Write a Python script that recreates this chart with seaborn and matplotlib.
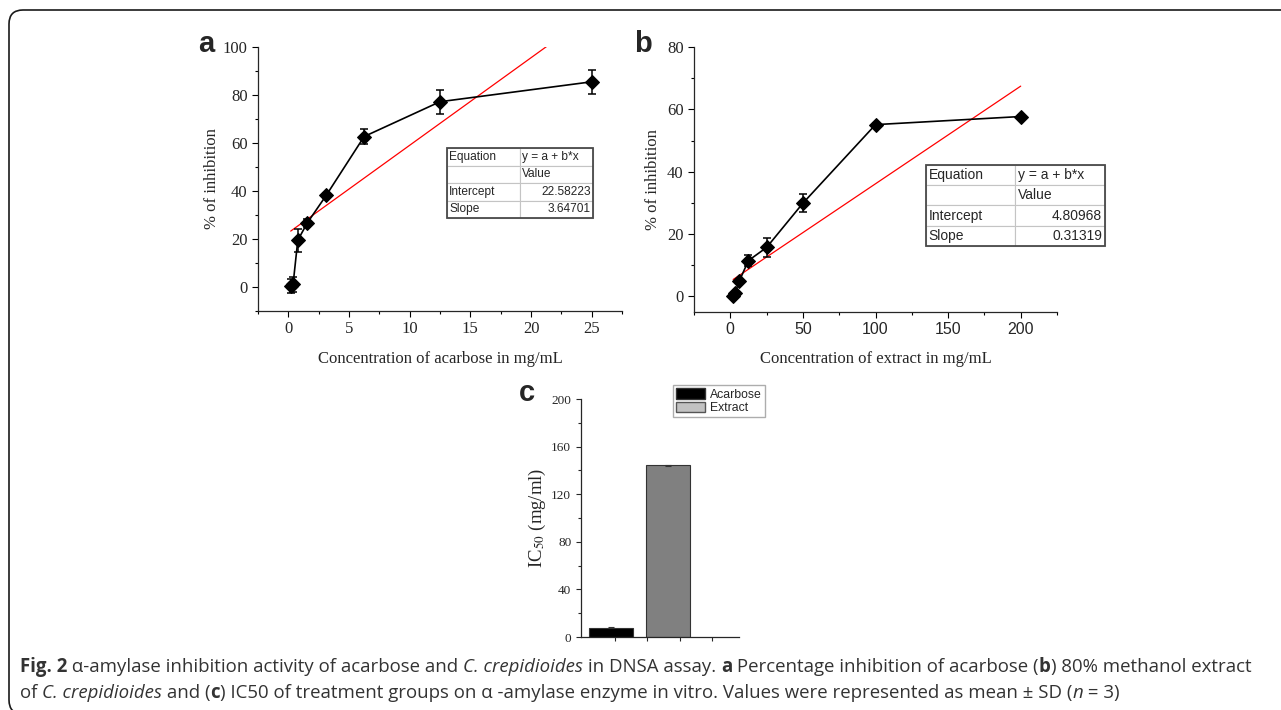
import numpy as np
import pandas as pd
import matplotlib
matplotlib.use("Agg")
import matplotlib.pyplot as plt
import matplotlib.font_manager as fm
import seaborn as sns
from matplotlib.patches import FancyBboxPatch, Patch, Rectangle
from matplotlib.ticker import MultipleLocator

# panel a - acarbose
conc_acarbose = [0.195, 0.39, 0.78, 1.5625, 3.125, 6.25, 12.5, 25]
inhib_acarbose = [0.4, 1.1, 19.5, 26.7, 38.2, 62.7, 77.2, 85.5]
sd_acarbose = [2.8, 3.0, 4.8, 1.8, 1.0, 3.0, 5.0, 4.9]
fit_a = [22.58223, 3.64701]  # intercept, slope

# panel b - extract
conc_extract = [1.5625, 3.125, 6.25, 12.5, 25, 50, 100, 200]
inhib_extract = [0.2, 1.0, 5.0, 11.5, 15.7, 29.9, 55.1, 57.7]
sd_extract = [0.4, 0.4, 0.5, 1.9, 2.9, 2.9, 0.5, 0.5]
fit_b = [4.80968, 0.31319]

# panel c - IC50
groups = ["Acarbose", "Extract"]
ic50 = [7.9, 144.2]
ic50_sd = [0.5, 0.5]

W, H = 1281, 710
sns.set_style("ticks")
plt.rcParams["font.family"] = ["Liberation Serif", "DejaVu Serif"]
plt.rcParams["mathtext.fontset"] = "stix"
plt.rcParams["axes.linewidth"] = 0.9

fig = plt.figure(figsize=(W / 100, H / 100), dpi=100)


def px_axes(left, top, right, bottom):
    return fig.add_axes([left / W, 1 - bottom / H, (right - left) / W, (bottom - top) / H])


def style_axes(ax, xmaj, xmin, ymaj, ymin, size):
    sns.despine(ax=ax)
    ax.xaxis.set_major_locator(MultipleLocator(xmaj))
    ax.xaxis.set_minor_locator(MultipleLocator(xmin))
    ax.yaxis.set_major_locator(MultipleLocator(ymaj))
    ax.yaxis.set_minor_locator(MultipleLocator(ymin))
    ax.tick_params(which="major", direction="out", length=4, width=0.8, labelsize=size, color="black")
    ax.tick_params(which="minor", direction="out", length=2.5, width=0.8, color="black")


def fit_table(ax, fit, bbox, size):
    cells = [["Equation", "y = a + b*x"], ["", "Value"],
             ["Intercept", f"{fit[0]:.5f}"], ["Slope", f"{fit[1]:.5f}"]]
    tb = ax.table(cellText=cells, bbox=bbox, cellLoc="left", zorder=5)
    tb.auto_set_font_size(False)
    tb.set_fontsize(size)
    for (r, c), cell in tb.get_celld().items():
        cell.set_edgecolor("#c4c4c4")
        cell.set_linewidth(0.8)
        cell.get_text().set_family("Liberation Sans")
        cell.PAD = 0.03
        if c == 1 and r >= 2:
            cell._loc = "right"
            cell.get_text().set_ha("right")
    ax.add_patch(Rectangle((bbox[0], bbox[1]), bbox[2], bbox[3], transform=ax.transAxes,
                           fill=False, edgecolor="#4a4a4a", linewidth=1.3, zorder=6, clip_on=False))


# ---- panel a ----
ax_a = px_axes(258, 47, 622, 311)
df_a = pd.DataFrame({"conc": conc_acarbose, "inhib": inhib_acarbose})
ax_a.errorbar(conc_acarbose, inhib_acarbose, yerr=sd_acarbose, fmt="none", ecolor="black",
              elinewidth=1.1, capsize=3, capthick=1.1, zorder=3)
sns.lineplot(data=df_a, x="conc", y="inhib", ax=ax_a, color="black", marker="D", markersize=7.5,
             markeredgecolor="black", linewidth=1.2, errorbar=None, zorder=4)
xa = np.array([conc_acarbose[0], conc_acarbose[-1]])
sns.lineplot(x=xa, y=fit_a[0] + fit_a[1] * xa, ax=ax_a, color="red", linewidth=0.9, zorder=2)
ax_a.set_xlim(-2.5, 27.5)
ax_a.set_ylim(-10, 100)
style_axes(ax_a, 5, 2.5, 20, 10, 12)
ax_a.set_xlabel("Concentration of acarbose in mg/mL", fontsize=12, labelpad=10)
ax_a.set_ylabel("% of inhibition", fontsize=12, labelpad=2)
fit_table(ax_a, fit_a, [0.519, 0.352, 0.401, 0.265], 8.6)

# ---- panel b ----
ax_b = px_axes(694, 47, 1057, 312)
df_b = pd.DataFrame({"conc": conc_extract, "inhib": inhib_extract})
ax_b.errorbar(conc_extract, inhib_extract, yerr=sd_extract, fmt="none", ecolor="black",
              elinewidth=1.1, capsize=3, capthick=1.1, zorder=3)
sns.lineplot(data=df_b, x="conc", y="inhib", ax=ax_b, color="black", marker="D", markersize=7.5,
             markeredgecolor="black", linewidth=1.2, errorbar=None, zorder=4)
xb = np.array([2.0, conc_extract[-1]])
sns.lineplot(x=xb, y=fit_b[0] + fit_b[1] * xb, ax=ax_b, color="red", linewidth=0.9, zorder=2)
ax_b.set_xlim(-25, 225)
ax_b.set_ylim(-5, 80)
style_axes(ax_b, 50, 25, 20, 10, 12)
for lab in ax_b.get_xticklabels():
    lab.set_family("Liberation Sans")
    lab.set_fontsize(11.5)
ax_b.set_xlabel("Concentration of extract in mg/mL", fontsize=12, labelpad=10)
ax_b.set_ylabel("% of inhibition", fontsize=12, labelpad=4)
fit_table(ax_b, fit_b, [0.639, 0.249, 0.493, 0.306], 10)

# ---- panel c ----
ax_c = px_axes(581, 399, 739, 637)
sns.barplot(x=groups, y=ic50, hue=groups, palette=["black", "#808080"], width=0.77,
            edgecolor="#333333", linewidth=0.8, legend=False, ax=ax_c)
ax_c.errorbar(range(len(groups)), ic50, yerr=ic50_sd, fmt="none", ecolor="#333333",
              elinewidth=0.8, capsize=2.5, capthick=0.8)
ax_c.set_xlim(-0.52, 2.23)
ax_c.set_ylim(0, 200)
sns.despine(ax=ax_c)
ax_c.set_xticks([0.07, 0.63, 1.2, 1.76])
ax_c.set_xticklabels([])
ax_c.yaxis.set_major_locator(MultipleLocator(40))
ax_c.yaxis.set_minor_locator(MultipleLocator(20))
ax_c.tick_params(which="major", direction="out", length=3.5, width=0.8, labelsize=9.5)
ax_c.tick_params(which="minor", direction="out", length=2, width=0.8)
ax_c.tick_params(axis="x", length=3)
ax_c.set_xlabel("")
ax_c.set_ylabel("IC$_{50}$ (mg/ml)", fontsize=13.5, labelpad=2)
handles = [Patch(facecolor="black", edgecolor="#333333"), Patch(facecolor="#c2c2c2", edgecolor="#555555")]
ax_c.legend(handles, groups, loc="upper right", bbox_to_anchor=(1.165, 1.057), frameon=True,
            fancybox=False, edgecolor="#999999", prop={"family": "Liberation Sans", "size": 8.8},
            handlelength=2.4, handleheight=0.9, borderpad=0.25, labelspacing=0.1,
            handletextpad=0.4, borderaxespad=0)

# panel letters
for letter, lx, ly in [("a", 198, 52), ("b", 634, 52), ("c", 519, 401)]:
    fig.text(lx / W, 1 - ly / H, letter, fontsize=21, fontweight="bold",
             family="Liberation Sans", va="baseline", ha="left")

# frame
frame = FancyBboxPatch((9, -4), 1320, 704, boxstyle="round,pad=0,rounding_size=14",
                       transform=None, fill=False, edgecolor="#1a1a1a", linewidth=1.2)
fig.add_artist(frame)

# caption
avail = {f.name for f in fm.fontManager.ttflist}
cap_font = next(f for f in ["Liberation Sans Narrow", "Open Sans", "Noto Sans", "DejaVu Sans"] if f in avail)
line1 = [("Fig. 2", "b"), (" α-amylase inhibition activity of acarbose and ", "n"),
         ("C. crepidioides", "i"), (" in DNSA assay. ", "n"), ("a", "b"),
         (" Percentage inhibition of acarbose (", "n"), ("b", "b"), (") 80% methanol extract", "n")]
line2 = [("of ", "n"), ("C. crepidioides", "i"), (" and (", "n"), ("c", "b"),
         (") IC50 of treatment groups on α -amylase enzyme in vitro. Values were represented as mean ± SD (", "n"),
         ("n", "i"), (" = 3)", "n")]

renderer = fig.canvas.get_renderer()


def piece_prop(style, size):
    return fm.FontProperties(family=cap_font, size=size,
                             weight="bold" if style == "b" else "normal",
                             style="italic" if style == "i" else "normal")


def advance(txt, prop):
    w1 = renderer.get_text_width_height_descent("X" + txt + "X", prop, ismath=False)[0]
    w0 = renderer.get_text_width_height_descent("XX", prop, ismath=False)[0]
    return w1 - w0


base = 10.0
width1 = sum(advance(t, piece_prop(s, base)) for t, s in line1)
cap_size = base * 1235 / width1


def draw_line(pieces, x0, baseline):
    x = x0
    for txt, style in pieces:
        prop = piece_prop(style, cap_size)
        fig.text(x / W, 1 - baseline / H, txt, fontproperties=prop, color="#333333",
                 va="baseline", ha="left")
        x += advance(txt, prop)


draw_line(line1, 20, 672)
draw_line(line2, 20, 698)

fig.savefig("out.png", dpi=100)
